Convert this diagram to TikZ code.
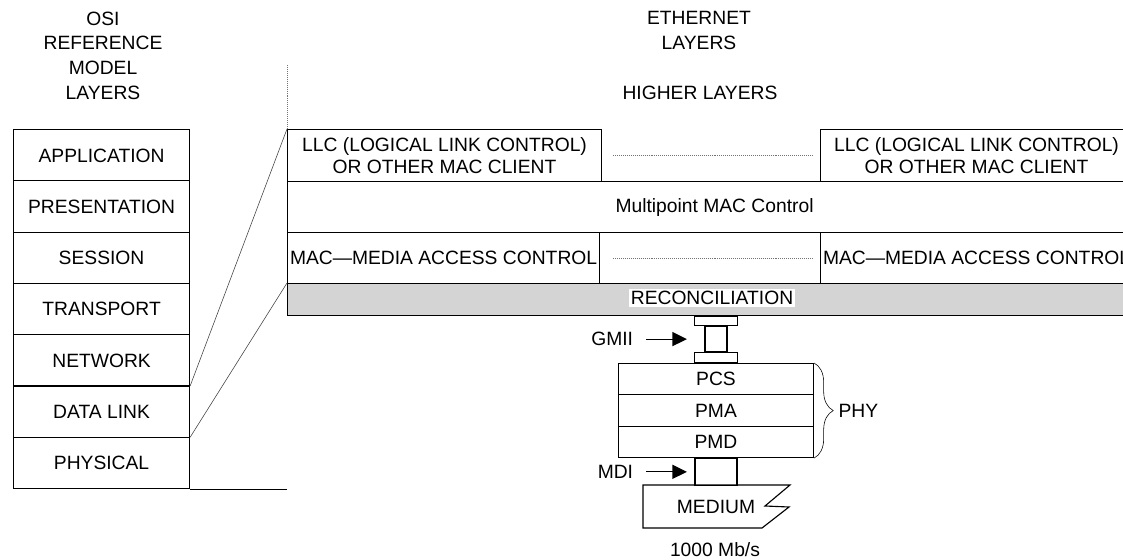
\documentclass[tikz,border=0pt]{standalone}
\usepackage{fontspec}
\setmainfont{Liberation Sans}
\usetikzlibrary{positioning}
\usetikzlibrary{calc}
\usetikzlibrary{shapes.multipart}
\usetikzlibrary{arrows.meta}
\usetikzlibrary{decorations.pathreplacing}
\tikzset{
    % Fat filled heads for the interface pointers
    >={Triangle[length=3.6mm,width=3.5mm]},
%
    % Outlined box for one layer, placed by its top left corner
    layer box/.style={draw, thick, inner sep=0, anchor=north west},
%
    % A stack of layers drawn as one split rectangle
    layer stack/.style={
        rectangle split, rectangle split parts=#1, draw, thick, inner sep=0},
%
    % Small open boxes making up the interface connectors
    plug/.style={draw, thick, inner sep=0},
%
    % Thin lines joining the two models
    link line/.style={thin, black!75},
    % Fine dotted line standing for the repeated clients
    gap line/.style={densely dotted, black!55},
    % Grey band behind the reconciliation sublayer
    band fill/.style={fill=black!17},
    % Headings over the columns
    heading/.style={align=center, font=\fontsize{13.7}{17.6}\selectfont}}

\begin{document}
\begin{tikzpicture}[font=\fontsize{13.7}{15.6}\selectfont]

\useasboundingbox (0,0) rectangle (280.75mm,-140mm);
\clip (0,0) rectangle (280.75mm,-140mm);

% Headings

\node [heading] (osi title) at (25.75mm,-13.9mm)
    {OSI\\REFERENCE\\MODEL\\LAYERS};
\node [heading] (eth title) at (174.75mm,-7.6mm) {ETHERNET\\LAYERS};
\node (higher) at (175mm,-23.3mm) {HIGHER LAYERS};

% OSI reference model

\node [layer stack=7, minimum width=44mm, anchor=north west] (osi)
    at (3.25mm,-32.25mm)
    {
        APPLICATION\rule[-4.55mm]{0pt}{12.54mm}
    \nodepart{two}
        PRESENTATION\rule[-4.55mm]{0pt}{12.54mm}
    \nodepart{three}
        SESSION\rule[-4.55mm]{0pt}{12.54mm}
    \nodepart{four}
        TRANSPORT\rule[-4.55mm]{0pt}{12.54mm}
    \nodepart{five}
        NETWORK\rule[-4.55mm]{0pt}{12.54mm}
    \nodepart{six}
        DATA LINK\rule[-4.55mm]{0pt}{12.54mm}
    \nodepart{seven}
        PHYSICAL\rule[-4.55mm]{0pt}{12.54mm}
    };

% Ethernet layers

\coordinate (eth top) at (71.75mm,-16.25mm);
\coordinate (eth base) at (osi.south east -| eth top);

\node [layer box, minimum width=78.5mm, minimum height=13mm, align=center]
    (llc left) at (71.75mm,-32.25mm)
    {LLC (LOGICAL LINK CONTROL)\\OR OTHER MAC CLIENT};
\node [layer box, minimum width=78mm, minimum height=13mm, align=center]
    (llc right) at (205mm,-32.25mm)
    {LLC (LOGICAL LINK CONTROL)\\OR OTHER MAC CLIENT};
\node [layer box, minimum width=213.5mm, minimum height=12.75mm]
    (mpmc) at (71.75mm,-45.25mm) {Multipoint MAC Control};
\node [layer box, minimum width=78mm, minimum height=12.75mm]
    (mac left) at (71.75mm,-58mm) {MAC—MEDIA ACCESS CONTROL};
\node [layer box, minimum width=78mm, minimum height=12.75mm]
    (mac right) at (205mm,-58mm) {MAC—MEDIA ACCESS CONTROL};
\node [layer box, band fill, minimum width=213.5mm, minimum height=8mm]
    (recon band) at (71.75mm,-70.75mm) {};
\node [fill=white, inner sep=1.5pt] (recon) at (178mm,-74.4mm)
    {RECONCILIATION};

\draw [gap line] (eth top) -- (llc left.north west);
\draw [gap line] ([xshift=2.75mm]llc left.east) -- ([xshift=-1.75mm]llc right.west);
\draw [gap line] ([xshift=3.25mm]mac left.east) -- ([xshift=-1.75mm]mac right.west);

\draw [link line] (osi.five split east) -- (llc left.north west);
\draw [link line] (osi.six split east) -- (recon band.north west);
\draw [thick] (osi.south east) -- (eth base);

% Physical layer with its two interfaces

\node [layer stack=3, minimum width=48.75mm, anchor=north] (phy)
    at (179mm,-90.75mm)
    {
        PCS\rule[-2.1mm]{0pt}{7.55mm}
    \nodepart{two}
        PMA\rule[-2.1mm]{0pt}{7.55mm}
    \nodepart{three}
        PMD\rule[-2.1mm]{0pt}{7.55mm}
    };

\node [plug, minimum width=10.75mm, minimum height=2.4mm, above=0pt of phy]
    (gmii bottom) {};
\node [plug, minimum width=5.5mm, minimum height=6.3mm, above=0pt of gmii bottom]
    (gmii) {};
\node [plug, minimum width=10.75mm, minimum height=2.3mm, above=0pt of gmii]
    (gmii top) {};
\node [plug, minimum width=10.5mm, minimum height=6.6mm, below=0pt of phy]
    (mdi) {};

\draw [thin, decorate, decoration={brace, amplitude=4.8mm}]
    (phy.north east) -- (phy.south east)
    node [midway, anchor=west, xshift=4.9mm] (phy label) {PHY};

\node [left=16.6mm of gmii] (gmii label) {GMII};
\node [left=14.1mm of mdi] (mdi label) {MDI};
\draw [thick, ->] ([xshift=2mm]gmii label.east) -- ([xshift=-4.4mm]gmii.west);
\draw [thick, ->] ([xshift=2mm]mdi label.east) -- ([xshift=-1.9mm]mdi.west);

% Medium

\node (medium) at (179mm,-126.8mm) {MEDIUM};
\draw [thick] (160.75mm,-121.25mm) -- (197.5mm,-121.25mm)
    -- (191.25mm,-126.5mm) -- (197.25mm,-126.75mm)
    -- (190.5mm,-132mm) -- (160.75mm,-132mm) -- cycle;
\node (rate) at (178.75mm,-137.5mm) {1000 Mb/s};

\end{tikzpicture}
\end{document}
